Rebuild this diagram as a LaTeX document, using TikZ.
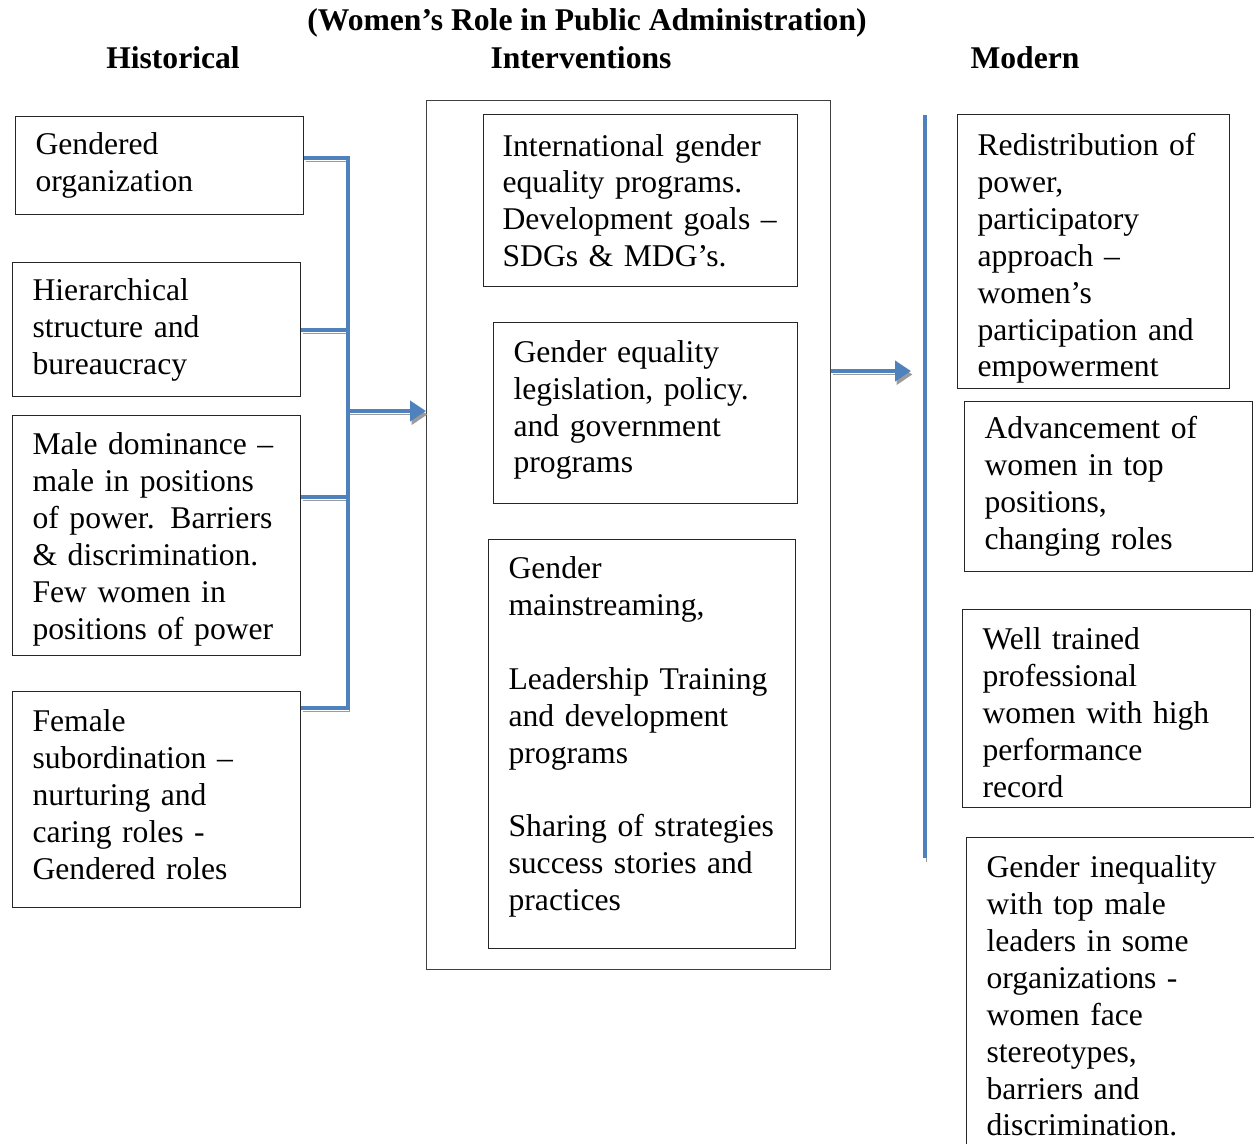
\documentclass[tikz,border=0pt]{standalone}
\usepackage{fontspec}
\setmainfont{Liberation Serif}
\usetikzlibrary{arrows.meta}
\definecolor{linkblue}{RGB}{79,129,189}
\definecolor{shadegray}{RGB}{155,155,155}
\newcommand{\toppad}[1]{\rule{0pt}{#1}}
\newcommand{\botpad}[1]{\rule[-#1]{0pt}{#1}}
\tikzstyle{box}=[draw=black!85, line width=0.7pt, anchor=north west, align=left, inner xsep=0.4cm, inner ysep=0pt, font=\fontsize{18pt}{21pt}\selectfont]
\tikzstyle{head}=[inner sep=0pt, font=\fontsize{18pt}{21pt}\selectfont\bfseries]
\tikzstyle{link}=[line width=2.8pt, draw=linkblue, preaction={draw=shadegray, transform canvas={shift={(0.03cm,-0.07cm)}}}]
\tikzstyle{tip}=[-{Triangle[length=0.32cm,width=0.4cm]}]

\begin{document}
\begin{tikzpicture}[x=0.02cm,y=-0.02cm]
\useasboundingbox (0,0) rectangle (1254,1143);
\node[head] (title) at (587,23) {(Women’s Role in Public Administration)};
\node[head] (hist) at (173,58) {Historical};
\node[head] (intv) at (581,58) {Interventions};
\node[head] (mod) at (1025,58) {Modern};
\node[box, text width=4.96cm, minimum height=1.96cm] (gendered) at (15,116) {Gendered\\organization};
\node[box, text width=4.96cm, minimum height=2.68cm] (hier) at (12,262) {Hierarchical\\structure and\\bureaucracy};
\node[box, text width=4.96cm, minimum height=4.80cm] (male) at (12,415) {\toppad{0.6cm}Male dominance –\\male in positions\\of power. Barriers\\\& discrimination.\\Few women in\\positions of power};
\node[box, text width=4.96cm, minimum height=4.32cm] (female) at (12,691) {Female\\subordination –\\nurturing and\\caring roles -\\Gendered roles\botpad{0.2cm}};
\node[draw=black!75, line width=0.7pt, anchor=north west, inner sep=0pt, minimum width=8.08cm, minimum height=17.38cm] (interv) at (426,100) {};
\node[box, inner xsep=0.38cm, text width=5.52cm, minimum height=3.44cm] (intl) at (483,114) {International gender\\equality programs.\\Development goals –\\SDGs \& MDG’s.};
\node[box, text width=5.28cm, minimum height=3.62cm] (legis) at (493,322) {Gender equality\\legislation, policy.\\and government\\programs\botpad{0.26cm}};
\node[box, text width=5.34cm, minimum height=8.18cm] (mainstr) at (488,539) {Gender\\mainstreaming,\\[21pt]Leadership Training\\and development\\programs\\[21pt]Sharing of strategies\\success stories and\\practices\botpad{0.42cm}};
\node[box, text width=4.64cm, minimum height=5.48cm] (redist) at (957,114) {\toppad{0.72cm}Redistribution of\\power,\\participatory\\approach –\\women’s\\participation and\\empowerment};
\node[box, text width=4.96cm, minimum height=3.40cm] (advance) at (964,401) {Advancement of\\women in top\\positions,\\changing roles};
\node[box, text width=4.96cm, minimum height=3.96cm] (trained) at (962,609) {\toppad{0.6cm}Well trained\\professional\\women with high\\performance\\record};
\node[box, text width=5.00cm, minimum height=6.34cm] (inequal) at (966,837) {Gender inequality\\with top male\\leaders in some\\organizations -\\women face\\stereotypes,\\barriers and\\discrimination.};
\coordinate (j1) at (348,158);
\coordinate (j2) at (348,330);
\coordinate (j3) at (348,497);
\coordinate (j4) at (348,708);
\coordinate (jm) at (348,411);
\coordinate (rtip) at (911,371);
\coordinate (bartop) at (925,115);
\coordinate (barbot) at (925,858);
\draw[link] (gendered.east |- j1) -- (j1);
\draw[link] (hier.east |- j2) -- (j2);
\draw[link] (male.east |- j3) -- (j3);
\draw[link] (female.east |- j4) -- (j4);
\draw[link, line cap=rect] (j1) -- (j4);
\draw[link, tip] (jm) -- (interv.west |- jm);
\draw[link, tip] (interv.east |- rtip) -- (rtip);
\draw[link] (bartop) -- (barbot);
\end{tikzpicture}
\end{document}
